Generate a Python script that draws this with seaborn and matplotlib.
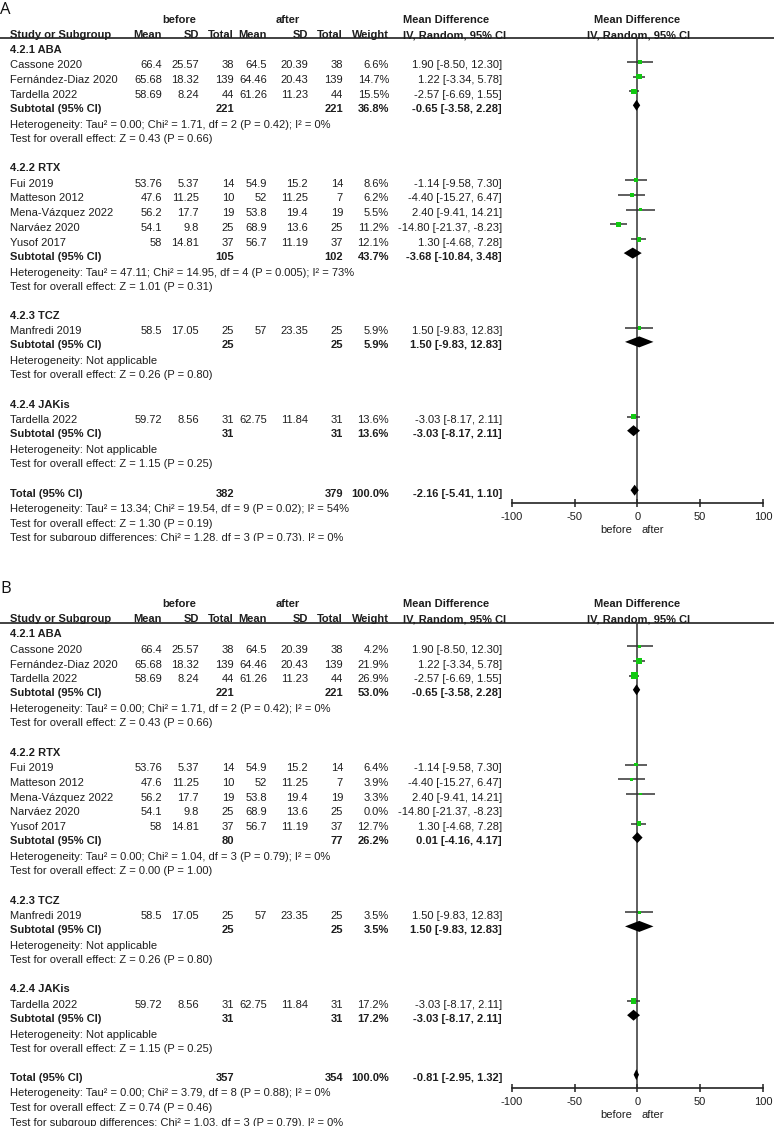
import numpy as np
import pandas as pd
import matplotlib
matplotlib.use("Agg")
import matplotlib.pyplot as plt
import seaborn as sns

# ---------------- data ----------------
group_keys = ["ABA", "RTX", "TCZ", "JAKis"]
group_labels = ["4.2.1 ABA", "4.2.2 RTX", "4.2.3 TCZ", "4.2.4 JAKis"]

study_names = ["Cassone 2020", "Fernández-Diaz 2020", "Tardella 2022",
               "Fui 2019", "Matteson 2012", "Mena-Vázquez 2022", "Narváez 2020", "Yusof 2017",
               "Manfredi 2019", "Tardella 2022"]
study_groups = ["ABA", "ABA", "ABA", "RTX", "RTX", "RTX", "RTX", "RTX", "TCZ", "JAKis"]
before_mean = [66.4, 65.68, 58.69, 53.76, 47.6, 56.2, 54.1, 58, 58.5, 59.72]
before_sd = [25.57, 18.32, 8.24, 5.37, 11.25, 17.7, 9.8, 14.81, 17.05, 8.56]
before_n = [38, 139, 44, 14, 10, 19, 25, 37, 25, 31]
after_mean = [64.5, 64.46, 61.26, 54.9, 52, 53.8, 68.9, 56.7, 57, 62.75]
after_sd = [20.39, 20.43, 11.23, 15.2, 11.25, 19.4, 13.6, 11.19, 23.35, 11.84]
after_n = [38, 139, 44, 14, 7, 19, 25, 37, 25, 31]
md = [1.90, 1.22, -2.57, -1.14, -4.40, 2.40, -14.80, 1.30, 1.50, -3.03]
md_lo = [-8.50, -3.34, -6.69, -9.58, -15.27, -9.41, -21.37, -4.68, -9.83, -8.17]
md_hi = [12.30, 5.78, 1.55, 7.30, 6.47, 14.21, -8.23, 7.28, 12.83, 2.11]
weight_A = [6.6, 14.7, 15.5, 8.6, 6.2, 5.5, 11.2, 12.1, 5.9, 13.6]
weight_B = [4.2, 21.9, 26.9, 6.4, 3.9, 3.3, 0.0, 12.7, 3.5, 17.2]

# subgroup results, panel A
sub_before_n_A = [221, 105, 25, 31]
sub_after_n_A = [221, 102, 25, 31]
sub_weight_A = [36.8, 43.7, 5.9, 13.6]
sub_md_A = [-0.65, -3.68, 1.50, -3.03]
sub_lo_A = [-3.58, -10.84, -9.83, -8.17]
sub_hi_A = [2.28, 3.48, 12.83, 2.11]
sub_het_A = ["Heterogeneity: Tau² = 0.00; Chi² = 1.71, df = 2 (P = 0.42); I² = 0%",
             "Heterogeneity: Tau² = 47.11; Chi² = 14.95, df = 4 (P = 0.005); I² = 73%",
             "Heterogeneity: Not applicable",
             "Heterogeneity: Not applicable"]
sub_z_A = ["Test for overall effect: Z = 0.43 (P = 0.66)",
           "Test for overall effect: Z = 1.01 (P = 0.31)",
           "Test for overall effect: Z = 0.26 (P = 0.80)",
           "Test for overall effect: Z = 1.15 (P = 0.25)"]

# subgroup results, panel B
sub_before_n_B = [221, 80, 25, 31]
sub_after_n_B = [221, 77, 25, 31]
sub_weight_B = [53.0, 26.2, 3.5, 17.2]
sub_md_B = [-0.65, 0.01, 1.50, -3.03]
sub_lo_B = [-3.58, -4.16, -9.83, -8.17]
sub_hi_B = [2.28, 4.17, 12.83, 2.11]
sub_het_B = ["Heterogeneity: Tau² = 0.00; Chi² = 1.71, df = 2 (P = 0.42); I² = 0%",
             "Heterogeneity: Tau² = 0.00; Chi² = 1.04, df = 3 (P = 0.79); I² = 0%",
             "Heterogeneity: Not applicable",
             "Heterogeneity: Not applicable"]
sub_z_B = ["Test for overall effect: Z = 0.43 (P = 0.66)",
           "Test for overall effect: Z = 0.00 (P = 1.00)",
           "Test for overall effect: Z = 0.26 (P = 0.80)",
           "Test for overall effect: Z = 1.15 (P = 0.25)"]

# overall totals
panel_names = ["A", "B"]
total_before_n = [382, 357]
total_after_n = [379, 354]
total_md = [-2.16, -0.81]
total_lo = [-5.41, -2.95]
total_hi = [1.10, 1.32]
total_lines = [
    ["Heterogeneity: Tau² = 13.34; Chi² = 19.54, df = 9 (P = 0.02); I² = 54%",
     "Test for overall effect: Z = 1.30 (P = 0.19)",
     "Test for subgroup differences: Chi² = 1.28, df = 3 (P = 0.73), I² = 0%"],
    ["Heterogeneity: Tau² = 0.00; Chi² = 3.79, df = 8 (P = 0.88); I² = 0%",
     "Test for overall effect: Z = 0.74 (P = 0.46)",
     "Test for subgroup differences: Chi² = 1.03, df = 3 (P = 0.79), I² = 0%"],
]
x_ticks = [-100, -50, 0, 50, 100]
axis_labels = ["before", "after"]

# ---------------- style ----------------
sns.set_theme(style="white")
plt.rcParams["font.family"] = ["Liberation Sans", "DejaVu Sans"]
plt.rcParams["axes.unicode_minus"] = False

W, H = 774, 1126
FS = 8
TXT = "#1e1e1e"
LINE = "#333333"
GREEN = "#12c912"

fig = plt.figure(figsize=(W / 100, H / 100), dpi=100)

COL = dict(bm=162, bsd=199, bn=234, am=267, asd=308, an=343, w=389, ci=502)


def fmt_ci(m, lo, hi):
    return f"{m:.2f} [{lo:.2f}, {hi:.2f}]"


def row_layout():
    ys = {}
    y = 49.0
    for gi, g in enumerate(group_keys):
        ys[("group", gi)] = y
        idx = [i for i, s in enumerate(study_groups) if s == g]
        y += 15.3
        for k, i in enumerate(idx):
            if k > 0:
                y += 14.75
            ys[("study", i)] = y
        y += 14.0
        ys[("sub", gi)] = y
        y += 16.0
        ys[("het", gi)] = y
        y += 14.0
        ys[("z", gi)] = y
        y += 29.5
    ys["total"] = y
    ys["tl0"] = y + 15
    ys["tl1"] = y + 30
    ys["tl2"] = y + 44.5
    return ys


ROWS = row_layout()

panels = [
    dict(off=0.0, lab_y=13.5, top=0, bot=541, weights=weight_A,
         sbn=sub_before_n_A, san=sub_after_n_A, sw=sub_weight_A,
         smd=sub_md_A, slo=sub_lo_A, shi=sub_hi_A, shet=sub_het_A, sz=sub_z_A),
    dict(off=584.5, lab_y=593.5, top=541, bot=1126, weights=weight_B,
         sbn=sub_before_n_B, san=sub_after_n_B, sw=sub_weight_B,
         smd=sub_md_B, slo=sub_lo_B, shi=sub_hi_B, shet=sub_het_B, sz=sub_z_B),
]

for p_i, P in enumerate(panels):
    off = P["off"]
    tab = fig.add_axes([0, 1 - P["bot"] / H, 1, (P["bot"] - P["top"]) / H])
    tab.set_xlim(0, W)
    tab.set_ylim(P["bot"], P["top"])
    tab.axis("off")

    def T(x, y, s, ha="left", bold=False, size=FS, **kw):
        tab.text(x, y + off, s, ha=ha, va="center_baseline", fontsize=size,
                 fontweight="bold" if bold else "normal", color=TXT, clip_on=True, **kw)

    # panel letter
    tab.text(0.5, P["lab_y"], panel_names[p_i], ha="left", va="baseline", fontsize=12,
             family=["Open Sans", "DejaVu Sans"], color="#111111")

    # headers
    T(179, 19, "before", ha="center", bold=True)
    T(288, 19, "after", ha="center", bold=True)
    T(403, 19, "Mean Difference", bold=True)
    T(637.5, 19, "Mean Difference", ha="center", bold=True)
    T(10, 34, "Study or Subgroup", bold=True)
    for key, s in [("bm", "Mean"), ("bsd", "SD"), ("bn", "Total"), ("am", "Mean"),
                   ("asd", "SD"), ("an", "Total"), ("w", "Weight")]:
        T(COL[key], 34, s, ha="right", bold=True)
    T(403, 34, "IV, Random, 95% CI", bold=True)
    T(639, 34, "IV, Random, 95% CI", ha="center", bold=True)
    tab.plot([0, W], [off + 38.5, off + 38.5], color=LINE, lw=1.3, solid_capstyle="butt")

    # groups
    for gi in range(len(group_keys)):
        T(10, ROWS[("group", gi)], group_labels[gi], bold=True)
        for i, g in enumerate(study_groups):
            if g != group_keys[gi]:
                continue
            y = ROWS[("study", i)]
            T(10, y, study_names[i])
            T(COL["bm"], y, f"{before_mean[i]:g}", ha="right")
            T(COL["bsd"], y, f"{before_sd[i]:g}", ha="right")
            T(COL["bn"], y, f"{before_n[i]}", ha="right")
            T(COL["am"], y, f"{after_mean[i]:g}", ha="right")
            T(COL["asd"], y, f"{after_sd[i]:g}", ha="right")
            T(COL["an"], y, f"{after_n[i]}", ha="right")
            T(COL["w"], y, f"{P['weights'][i]:.1f}%", ha="right")
            T(COL["ci"], y, fmt_ci(md[i], md_lo[i], md_hi[i]), ha="right")
        y = ROWS[("sub", gi)]
        T(10, y, "Subtotal (95% CI)", bold=True)
        T(COL["bn"], y, f"{P['sbn'][gi]}", ha="right", bold=True)
        T(COL["an"], y, f"{P['san'][gi]}", ha="right", bold=True)
        T(COL["w"], y, f"{P['sw'][gi]:.1f}%", ha="right", bold=True)
        T(COL["ci"], y, fmt_ci(P["smd"][gi], P["slo"][gi], P["shi"][gi]), ha="right", bold=True)
        T(10, ROWS[("het", gi)], P["shet"][gi])
        T(10, ROWS[("z", gi)], P["sz"][gi])

    y = ROWS["total"]
    T(10, y, "Total (95% CI)", bold=True)
    T(COL["bn"], y, f"{total_before_n[p_i]}", ha="right", bold=True)
    T(COL["an"], y, f"{total_after_n[p_i]}", ha="right", bold=True)
    T(COL["w"], y, "100.0%", ha="right", bold=True)
    T(COL["ci"], y, fmt_ci(total_md[p_i], total_lo[p_i], total_hi[p_i]), ha="right", bold=True)
    for k in range(3):
        T(10, ROWS[f"tl{k}"], total_lines[p_i][k])

    # ---------------- forest plot axes ----------------
    x0, x1 = 511.7, 763.0
    ytop, ybot = off + 38.5, off + 503.0
    fax = fig.add_axes([x0 / W, 1 - ybot / H, (x1 - x0) / W, (ybot - ytop) / H])
    fax.patch.set_alpha(0)
    fax.set_xlim(-100, 100)
    fax.set_ylim(ybot, ytop)

    fax.axvline(0, color=LINE, lw=1.1, zorder=1)

    df = pd.DataFrame({
        "md": md, "lo": md_lo, "hi": md_hi, "weight": P["weights"],
        "y": [ROWS[("study", i)] + off - 2.5 for i in range(len(md))],
    })
    df = df[df["weight"] > 0]
    fax.hlines(df["y"], df["lo"], df["hi"], color=LINE, lw=1.1, zorder=2)
    sns.scatterplot(data=df, x="md", y="y", size="weight", sizes=(0, 100), size_norm=(0, 100),
                    marker="s", color=GREEN, edgecolor="none", linewidth=0, legend=False,
                    ax=fax, zorder=3)

    dh = 5.5
    dia = [(P["smd"][g], P["slo"][g], P["shi"][g], ROWS[("sub", g)]) for g in range(len(group_keys))]
    dia.append((total_md[p_i], total_lo[p_i], total_hi[p_i], ROWS["total"]))
    for m, lo, hi, yy in dia:
        yc = yy + off - 2.5
        fax.fill([lo, m, hi, m], [yc, yc - dh, yc, yc + dh], color="black", lw=0, zorder=4)

    fax.set_xlabel("")
    fax.set_ylabel("")
    fax.set_yticks([])
    fax.set_xticks(x_ticks)
    fax.set_xticklabels([str(t) for t in x_ticks])
    for s in ["top", "left", "right"]:
        fax.spines[s].set_visible(False)
    fax.spines["bottom"].set_color("#222222")
    fax.spines["bottom"].set_linewidth(1.2)
    fax.tick_params(axis="x", direction="inout", length=6, width=1.1, labelsize=FS,
                    pad=3.5, colors="#222222", labelcolor=TXT, bottom=True)

    T(616.5, 529, axis_labels[0], ha="center")
    T(653, 529, axis_labels[1], ha="center")

fig.savefig("out.png", dpi=100)
